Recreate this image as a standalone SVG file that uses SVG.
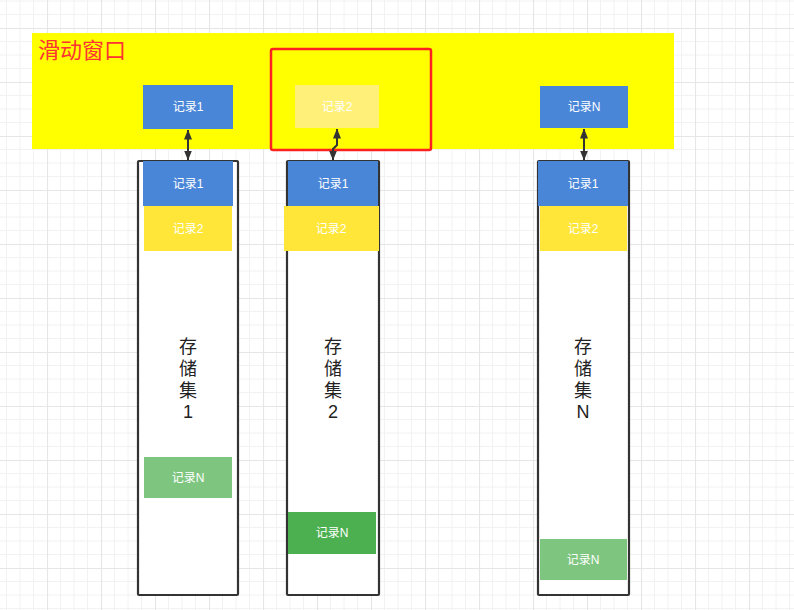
<svg xmlns="http://www.w3.org/2000/svg" width="794" height="610" viewBox="0 0 794 610">
<style>
.rec{font-family:"Liberation Sans","Noto Sans CJK SC",sans-serif;font-size:12px;fill:#ffffff;text-anchor:middle;dominant-baseline:central}
.lbl{font-family:"Liberation Sans","Noto Sans CJK SC",sans-serif;font-size:18px;fill:#222222;text-anchor:middle}
.col{fill:#ffffff;stroke:#333333;stroke-width:2.2}
.blue{fill:#4a86d8}
.yel{fill:#ffe638}
.lgreen{fill:#7ec67f}
.dgreen{fill:#4caf50}
.conn{fill:none;stroke:#333333;stroke-width:2;marker-start:url(#ah);marker-end:url(#ah)}
</style>
<defs>
<pattern id="grid" patternUnits="userSpaceOnUse" x="47" y="28" width="54" height="54">
<path d="M13.5 0V54M27 0V54M40.5 0V54M0 13.5H54M0 27H54M0 40.5H54" stroke="#f2f2f2" stroke-width="1" fill="none"/>
<path d="M0.5 0V54M0 0.5H54" stroke="#e6e6e6" stroke-width="1.2" fill="none"/>
</pattern>
<marker id="ah" viewBox="0 0 10 8" refX="9.5" refY="4" markerWidth="10" markerHeight="8" orient="auto-start-reverse" markerUnits="userSpaceOnUse">
<path d="M0 0L10 4L0 8Z" fill="#333333"/>
</marker>
</defs>
<rect width="794" height="610" fill="#ffffff"/>
<rect width="794" height="610" fill="url(#grid)"/>

<g id="window">
<rect x="32" y="33" width="642" height="116" fill="#ffff00"/>
<text x="38" y="58" font-family="'Noto Sans CJK SC',sans-serif" font-size="22" fill="#ff3333">滑动窗口</text>
</g>

<g id="win-rec1">
<rect class="blue" x="143" y="85" width="90" height="44"/>
<text class="rec" x="188" y="107">记录1</text>
</g>
<g id="win-rec2">
<rect x="295" y="85" width="84" height="43" fill="#fff07a"/>
<text class="rec" x="337" y="107">记录2</text>
</g>
<g id="win-recN">
<rect class="blue" x="540" y="86" width="88" height="42"/>
<text class="rec" x="584" y="107">记录N</text>
</g>
<g id="highlight">
<rect x="271" y="49" width="160" height="101" rx="2" fill="none" stroke="#ff2020" stroke-width="2.5"/>
</g>

<g id="store1">
<rect class="col" x="138" y="161" width="100" height="434" rx="1"/>
<rect class="blue" x="143" y="161" width="90" height="45"/>
<text class="rec" x="188" y="183.5">记录1</text>
<rect class="yel" x="144" y="206" width="88" height="45"/>
<text class="rec" x="188" y="228.5">记录2</text>
<text class="lbl" x="188" y="353">存</text>
<text class="lbl" x="188" y="375">储</text>
<text class="lbl" x="188" y="397">集</text>
<text class="lbl" x="188" y="418">1</text>
<rect class="lgreen" x="144" y="457" width="88" height="41"/>
<text class="rec" x="188" y="477.5">记录N</text>
</g>

<g id="store2">
<rect class="col" x="287" y="161" width="92" height="434" rx="1"/>
<rect class="blue" x="288" y="161" width="90" height="45"/>
<text class="rec" x="333" y="183.5">记录1</text>
<rect class="yel" x="284" y="206" width="95" height="45"/>
<text class="rec" x="331" y="228.5">记录2</text>
<text class="lbl" x="333" y="353">存</text>
<text class="lbl" x="333" y="375">储</text>
<text class="lbl" x="333" y="397">集</text>
<text class="lbl" x="333" y="418">2</text>
<rect class="dgreen" x="288" y="512" width="88" height="42"/>
<text class="rec" x="332" y="533">记录N</text>
</g>

<g id="storeN">
<rect class="col" x="538" y="161" width="91" height="434" rx="1"/>
<rect class="blue" x="538" y="161" width="90" height="45"/>
<text class="rec" x="583" y="183.5">记录1</text>
<rect class="yel" x="540" y="206" width="87" height="45"/>
<text class="rec" x="583" y="228.5">记录2</text>
<text class="lbl" x="583" y="353">存</text>
<text class="lbl" x="583" y="375">储</text>
<text class="lbl" x="583" y="397">集</text>
<text class="lbl" x="583" y="418">N</text>
<rect class="lgreen" x="540" y="539" width="87" height="41"/>
<text class="rec" x="583" y="559.5">记录N</text>
</g>

<g id="connectors">
<path class="conn" d="M188 130V160"/>
<path class="conn" d="M333 160V149L337 145V129"/>
<path class="conn" d="M584 129V160"/>
</g>
</svg>
